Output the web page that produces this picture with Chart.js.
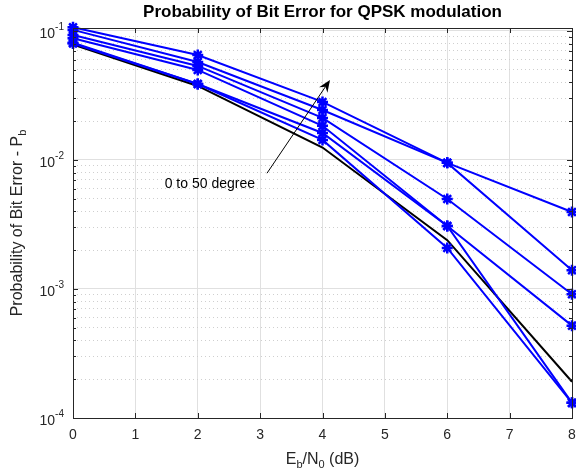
<!DOCTYPE html>
<html>
<head>
<meta charset="utf-8">
<script src="https://cdn.jsdelivr.net/npm/chart.js@4.4.1/dist/chart.umd.min.js"></script>
<style>
  html, body { margin: 0; padding: 0; background: #fff; }
  #wrap { width: 576px; height: 471px; }
</style>
</head>
<body>
<div id="wrap"><canvas id="mycanvas" width="576" height="471"></canvas></div>
<script>
// Eb/N0 in dB
var ebno = [0, 2, 4, 6, 8];

// simulated BER, one curve per phase offset (0 to 50 degree)
var ber0  = [0.080, 0.0388, 0.0143, 0.00208, 0.000131];
var ber10 = [0.081, 0.0388, 0.0162, 0.00308, 0.000131];
var ber20 = [0.088, 0.0499, 0.0184, 0.00308, 0.00052];
var ber30 = [0.093, 0.0536, 0.0212, 0.00499, 0.00091];
var ber40 = [0.102, 0.0575, 0.0244, 0.0095, 0.0014];
var ber50 = [0.107, 0.0652, 0.0282, 0.0095, 0.00395];

// theoretical QPSK BER
var berTheory = [0.0786, 0.0375, 0.0125, 0.00239, 0.000191];

var decadeTicks = [1e-4, 1e-3, 1e-2, 1e-1];
var decadeExp = ['-4', '-3', '-2', '-1'];
var xTicks = [0, 1, 2, 3, 4, 5, 6, 7, 8];

var axisColor = '#262626';
var fontFam = '"Liberation Sans", Arial, Helvetica, sans-serif';

function toPoints(vals) {
	var pts = [];
	for (var i in vals) {
		pts.push({x: ebno[i], y: vals[i]});
	}
	return pts;
}

var simSeries = [ber0, ber10, ber20, ber30, ber40, ber50];
var datasets = [];
for (var k in simSeries) {
	datasets.push({
		label: 'sim ' + (k * 10) + ' deg',
		data: toPoints(simSeries[k]),
		borderColor: '#0000ff',
		backgroundColor: '#0000ff',
		borderWidth: 2,
		pointStyle: 'star',
		pointRadius: 5.5,
		pointBorderWidth: 2.5,
		pointHoverRadius: 5.5,
		clip: false
	});
}
datasets.push({
	label: 'theory',
	data: toPoints(berTheory),
	borderColor: '#000000',
	backgroundColor: '#000000',
	borderWidth: 2,
	pointRadius: 0,
	clip: false
});

var decor = {
	id: 'decor',
	afterDatasetsDraw: function(chart) {
		var ctx = chart.ctx;
		var a = chart.chartArea;
		var xs = chart.scales.x;
		var ys = chart.scales.y;
		ctx.save();
		ctx.strokeStyle = axisColor;
		ctx.lineWidth = 1;
		// box
		ctx.strokeRect(Math.round(a.left) + 0.5, Math.round(a.top) + 0.5,
			Math.round(a.right - a.left), Math.round(a.bottom - a.top));
		ctx.beginPath();
		// x ticks (inward, top and bottom)
		for (var i in xTicks) {
			var px = Math.round(xs.getPixelForValue(xTicks[i])) + 0.5;
			ctx.moveTo(px, a.bottom); ctx.lineTo(px, a.bottom - 5);
			ctx.moveTo(px, a.top); ctx.lineTo(px, a.top + 5);
		}
		// y ticks, major and minor
		for (var d = -4; d <= -1; d++) {
			for (var m = 1; m <= 9; m++) {
				var v = m * Math.pow(10, d);
				if (v > ys.max) break;
				var py = Math.round(ys.getPixelForValue(v)) + 0.5;
				var len = (m === 1) ? 5 : 3;
				ctx.moveTo(a.left, py); ctx.lineTo(a.left + len, py);
				ctx.moveTo(a.right, py); ctx.lineTo(a.right - len, py);
			}
		}
		ctx.stroke();
		ctx.restore();
	},
	afterDraw: function(chart) {
		var ctx = chart.ctx;
		var a = chart.chartArea;
		var xs = chart.scales.x;
		var ys = chart.scales.y;
		ctx.save();

		// y tick labels 10^n
		ctx.fillStyle = axisColor;
		ctx.textBaseline = 'middle';
		for (var i in decadeTicks) {
			var py = ys.getPixelForValue(decadeTicks[i]);
			ctx.font = '10px ' + fontFam;
			var w = ctx.measureText(decadeExp[i]).width;
			var sx = a.left - 9 - w;
			ctx.textAlign = 'left';
			ctx.fillText(decadeExp[i], sx, py - 4);
			ctx.font = '14px ' + fontFam;
			ctx.textAlign = 'right';
			ctx.fillText('10', sx, py + 3);
		}

		// x axis title E_b/N_0 (dB)
		var parts = [['E', 16, 0], ['b', 11, 4], ['/N', 16, 0], ['0', 11, 4], [' (dB)', 16, 0]];
		var total = 0;
		for (var j in parts) {
			ctx.font = parts[j][1] + 'px ' + fontFam;
			total += ctx.measureText(parts[j][0]).width;
		}
		var cx = (a.left + a.right) / 2 - total / 2;
		var base = 464;
		ctx.textAlign = 'left';
		ctx.textBaseline = 'alphabetic';
		ctx.fillStyle = axisColor;
		for (var j in parts) {
			ctx.font = parts[j][1] + 'px ' + fontFam;
			ctx.fillText(parts[j][0], cx, base + parts[j][2]);
			cx += ctx.measureText(parts[j][0]).width;
		}

		// y axis title
		ctx.save();
		ctx.translate(16, (a.top + a.bottom) / 2);
		ctx.rotate(-Math.PI / 2);
		var yparts = [['Probability of Bit Error - P', 16, 0], ['b', 11, 4]];
		var ytot = 0;
		for (var j in yparts) {
			ctx.font = yparts[j][1] + 'px ' + fontFam;
			ytot += ctx.measureText(yparts[j][0]).width;
		}
		var yx = -ytot / 2;
		for (var j in yparts) {
			ctx.font = yparts[j][1] + 'px ' + fontFam;
			ctx.fillText(yparts[j][0], yx, 6 + yparts[j][2]);
			yx += ctx.measureText(yparts[j][0]).width;
		}
		ctx.restore();

		// annotation arrow
		var x0 = xs.getPixelForValue(3.11), y0 = ys.getPixelForValue(0.0079);
		var x1 = xs.getPixelForValue(4.12), y1 = ys.getPixelForValue(0.0417);
		var ang = Math.atan2(y1 - y0, x1 - x0);
		ctx.strokeStyle = '#000';
		ctx.fillStyle = '#000';
		ctx.lineWidth = 1;
		ctx.beginPath();
		ctx.moveTo(x0, y0);
		ctx.lineTo(x1 - 8 * Math.cos(ang), y1 - 8 * Math.sin(ang));
		ctx.stroke();
		ctx.beginPath();
		ctx.moveTo(x1, y1);
		ctx.lineTo(x1 - 12 * Math.cos(ang) + 5 * Math.sin(ang), y1 - 12 * Math.sin(ang) - 5 * Math.cos(ang));
		ctx.lineTo(x1 - 8 * Math.cos(ang), y1 - 8 * Math.sin(ang));
		ctx.lineTo(x1 - 12 * Math.cos(ang) - 5 * Math.sin(ang), y1 - 12 * Math.sin(ang) + 5 * Math.cos(ang));
		ctx.closePath();
		ctx.fill();

		ctx.font = '14px ' + fontFam;
		ctx.textAlign = 'left';
		ctx.textBaseline = 'middle';
		ctx.fillStyle = '#000';
		ctx.fillText('0 to 50 degree', xs.getPixelForValue(1.47), ys.getPixelForValue(0.00652));
		ctx.restore();
	}
};

var ctx = document.getElementById('mycanvas');
var chart = new Chart(ctx, {
	type: 'line',
	data: { datasets: datasets },
	plugins: [decor],
	options: {
		responsive: false,
		animation: false,
		events: [],
		layout: { autoPadding: false, padding: { left: 73, right: 4, top: 0, bottom: 28 } },
		plugins: {
			legend: { display: false },
			tooltip: { enabled: false },
			title: {
				display: true,
				text: 'Probability of Bit Error for QPSK modulation',
				color: '#000',
				font: { family: fontFam, size: 17, weight: 'bold' },
				padding: { top: 2, bottom: 5.6 }
			}
		},
		elements: { line: { tension: 0 } },
		scales: {
			x: {
				type: 'linear',
				min: 0,
				max: 8,
				afterBuildTicks: function(scale) {
					scale.ticks = xTicks.map(function(v) { return {value: v}; });
				},
				afterFit: function(scale) {
					scale.height = 25;
					scale.paddingLeft = 0;
					scale.paddingRight = 0;
				},
				ticks: {
					color: axisColor,
					font: { family: fontFam, size: 14 },
					padding: 9,
					maxRotation: 0,
					autoSkip: false
				},
				grid: { color: '#e0e0e0', drawTicks: false },
				border: { display: false }
			},
			yMinor: {
				type: 'logarithmic',
				position: 'left',
				min: 1e-4,
				max: 0.1055,
				afterBuildTicks: function(scale) {
					var t = [];
					for (var d = -4; d <= -2; d++) {
						for (var m = 2; m <= 9; m++) t.push({value: m * Math.pow(10, d)});
					}
					scale.ticks = t;
				},
				afterFit: function(scale) { scale.width = 0; },
				ticks: { display: false },
				grid: { color: '#cfcfcf', drawTicks: false },
				border: { display: false, dash: [1, 3] }
			},
			y: {
				type: 'logarithmic',
				position: 'left',
				min: 1e-4,
				max: 0.1055,
				afterBuildTicks: function(scale) {
					scale.ticks = decadeTicks.map(function(v) { return {value: v}; });
				},
				afterFit: function(scale) { scale.width = 0; },
				ticks: { display: false },
				grid: { color: '#e0e0e0', drawTicks: false },
				border: { display: false }
			}
		}
	}
});
</script>
</body>
</html>
